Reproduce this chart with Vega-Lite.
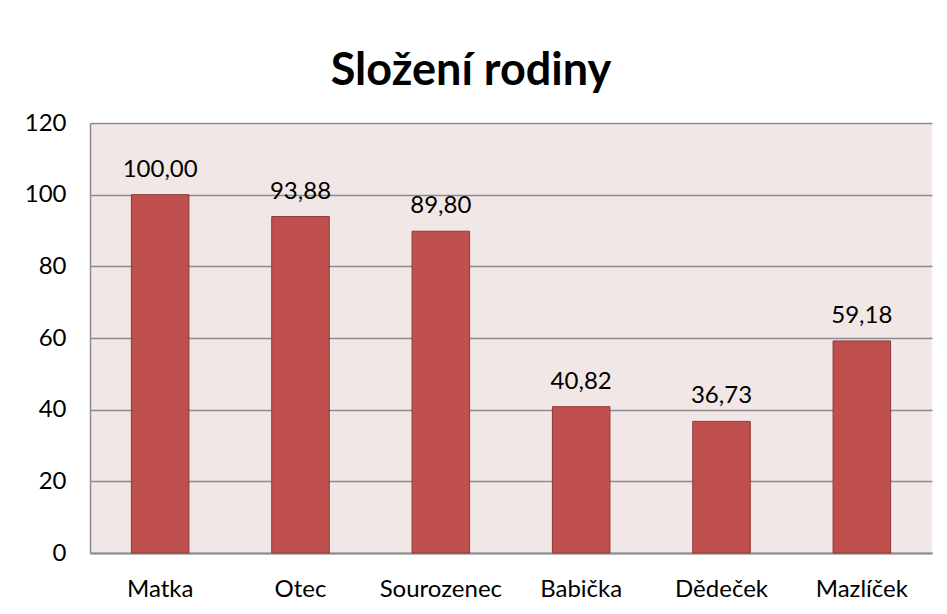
{
  "$schema": "https://vega.github.io/schema/vega-lite/v6.json",
  "width": 842,
  "height": 430,
  "autosize": {"type": "none"},
  "padding": {"left": 90, "top": 123, "right": 15, "bottom": 61},
  "background": "white",
  "config": {
    "locale": {"number": {"decimal": ",", "thousands": " ", "grouping": [3], "currency": ["", " Kč"]}},
    "font": "Lato",
    "view": {"fill": "#F2E7E7", "stroke": null}
  },
  "title": {
    "text": "Složení rodiny",
    "fontSize": 45,
    "fontWeight": "bold",
    "font": "Lato",
    "color": "black",
    "anchor": "middle",
    "dx": -40,
    "offset": 17
  },
  "data": {
    "values": [
      {"kategorie": "Matka", "hodnota": 100.0},
      {"kategorie": "Otec", "hodnota": 93.88},
      {"kategorie": "Sourozenec", "hodnota": 89.80},
      {"kategorie": "Babička", "hodnota": 40.82},
      {"kategorie": "Dědeček", "hodnota": 36.73},
      {"kategorie": "Mazlíček", "hodnota": 59.18}
    ]
  },
  "encoding": {
    "x": {
      "field": "kategorie",
      "type": "nominal",
      "sort": null,
      "scale": {"paddingInner": 0.59, "paddingOuter": 0.295},
      "axis": {
        "title": null,
        "labelAngle": 0,
        "labelFontSize": 24,
        "labelColor": "black",
        "labelPadding": 24,
        "ticks": false,
        "domainColor": "#8C8C8C",
        "domainWidth": 2
      }
    },
    "y": {
      "field": "hodnota",
      "type": "quantitative",
      "scale": {"domain": [0, 120]},
      "axis": {
        "title": null,
        "values": [0, 20, 40, 60, 80, 100, 120],
        "format": "d",
        "labelFontSize": 24,
        "labelColor": "black",
        "labelPadding": 24,
        "ticks": false,
        "domainColor": "#8C8C8C",
        "domainWidth": 1.5,
        "gridColor": "#8C8C8C",
        "gridWidth": 1.5
      }
    }
  },
  "layer": [
    {
      "mark": {"type": "bar", "color": "#C0504D", "stroke": "#8C3836", "strokeWidth": 1}
    },
    {
      "mark": {"type": "text", "baseline": "bottom", "dy": -13, "fontSize": 24, "color": "black"},
      "encoding": {
        "text": {"field": "hodnota", "type": "quantitative", "format": ".2f"}
      }
    }
  ]
}
